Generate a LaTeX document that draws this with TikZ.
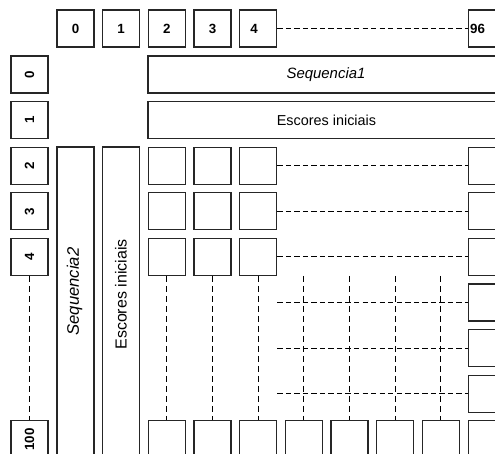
\documentclass[tikz,border=0pt]{standalone}
\usepackage{fontspec}
\setmainfont{Liberation Sans}
\begin{document}
\begin{tikzpicture}[x=0.75pt,y=-0.75pt,
  cell/.style={draw=black!85, line width=0.8pt, minimum width=27.75pt, minimum height=27.75pt, inner sep=0pt, font=\bfseries\fontsize{10}{11}\selectfont},
  rcell/.style={cell, rotate=90},
  wide/.style={draw=black!85, line width=0.8pt, inner sep=0pt},
  txt/.style={inner sep=0pt, font=\fontsize{10.8}{12}\selectfont},
  vtxt/.style={inner sep=0pt, rotate=90, font=\fontsize{12}{13}\selectfont},
  dline/.style={draw=black, line width=0.8pt, dash pattern=on 4pt off 2.4pt},
  vline/.style={draw=black, line width=0.8pt, dash pattern=on 4.5pt off 3pt}]
\useasboundingbox (0,0) rectangle (495,453);
\clip (0,0) rectangle (495,453);
% top column headers
\foreach \i/\t in {0/0,1/1,2/2,3/3} {
  \node[cell] (c\i) at ({75.5+45.67*\i},28.5) {\t};
}
\node[cell] (c4) at ({75.5+45.67*4},28.5) {};
\node[inner sep=0pt, font=\bfseries\fontsize{10}{11}\selectfont] (c4t) at (254,28.5) {4};
\node[cell] (c9) at ({75.5+45.67*9},28.5) {};
\node[inner sep=0pt, font=\bfseries\fontsize{10}{11}\selectfont] (c9t) at (477.5,28.5) {96};
% left row headers
\foreach \j/\t in {0/0,1/1,2/2,3/3,4/4,8/100} {
  \node[rcell] (r\j) at (29.5,{74.5+45.6*\j}) {\t};
}
% wide boxes
\node[wide, minimum width=267.75pt, minimum height=27.75pt] (s1) at (326.5,74.5) {};
\node[txt, font=\itshape\fontsize{11.2}{12}\selectfont] (s1t) at (326,74.5) {Sequencia1};
\node[wide, minimum width=267.75pt, minimum height=27.75pt] (e1) at (326.5,120.1) {};
\node[txt] (e1t) at (326.5,120.1) {Escores iniciais};
\node[wide, minimum width=27.75pt, minimum height=233.25pt] (s2) at (75.5,302.5) {};
\node[vtxt, font=\itshape\fontsize{12.5}{13}\selectfont] (s2t) at (74.5,291.5) {Sequencia2};
\node[wide, minimum width=27.75pt, minimum height=233.25pt] (e2) at (121.2,302.5) {};
\node[vtxt] (e2t) at (121,294.5) {Escores iniciais};
% grid cells
\foreach \i in {2,3,4} {
  \foreach \j in {2,3,4} {
    \node[cell] (g-\i-\j) at ({75.5+45.67*\i},{74.5+45.6*\j}) {};
  }
}
\foreach \j in {2,...,8} {
  \node[cell] (g-9-\j) at ({75.5+45.67*9},{74.5+45.6*\j}) {};
}
\foreach \i in {2,...,8} {
  \node[cell] (g-\i-8) at ({75.5+45.67*\i},{74.5+45.6*8}) {};
}
% dashed connectors
\draw[dline] (c4.east) -- (c9.west);
\foreach \j in {2,3,4} {
  \draw[dline] (g-4-\j.east) -- (g-9-\j.west);
}
\foreach \j in {5,6,7} {
  \draw[dline] (g-4-4.east |- g-9-\j.west) -- (g-9-\j.west);
}
\foreach \i in {2,3,4} {
  \draw[vline] (g-\i-4.south) -- (g-\i-8.north);
}
\foreach \i in {5,6,7,8} {
  \draw[vline] (g-\i-8.north |- g-4-4.south) -- (g-\i-8.north);
}
\draw[vline] (r4.west) -- (r8.east);
\end{tikzpicture}
\end{document}
